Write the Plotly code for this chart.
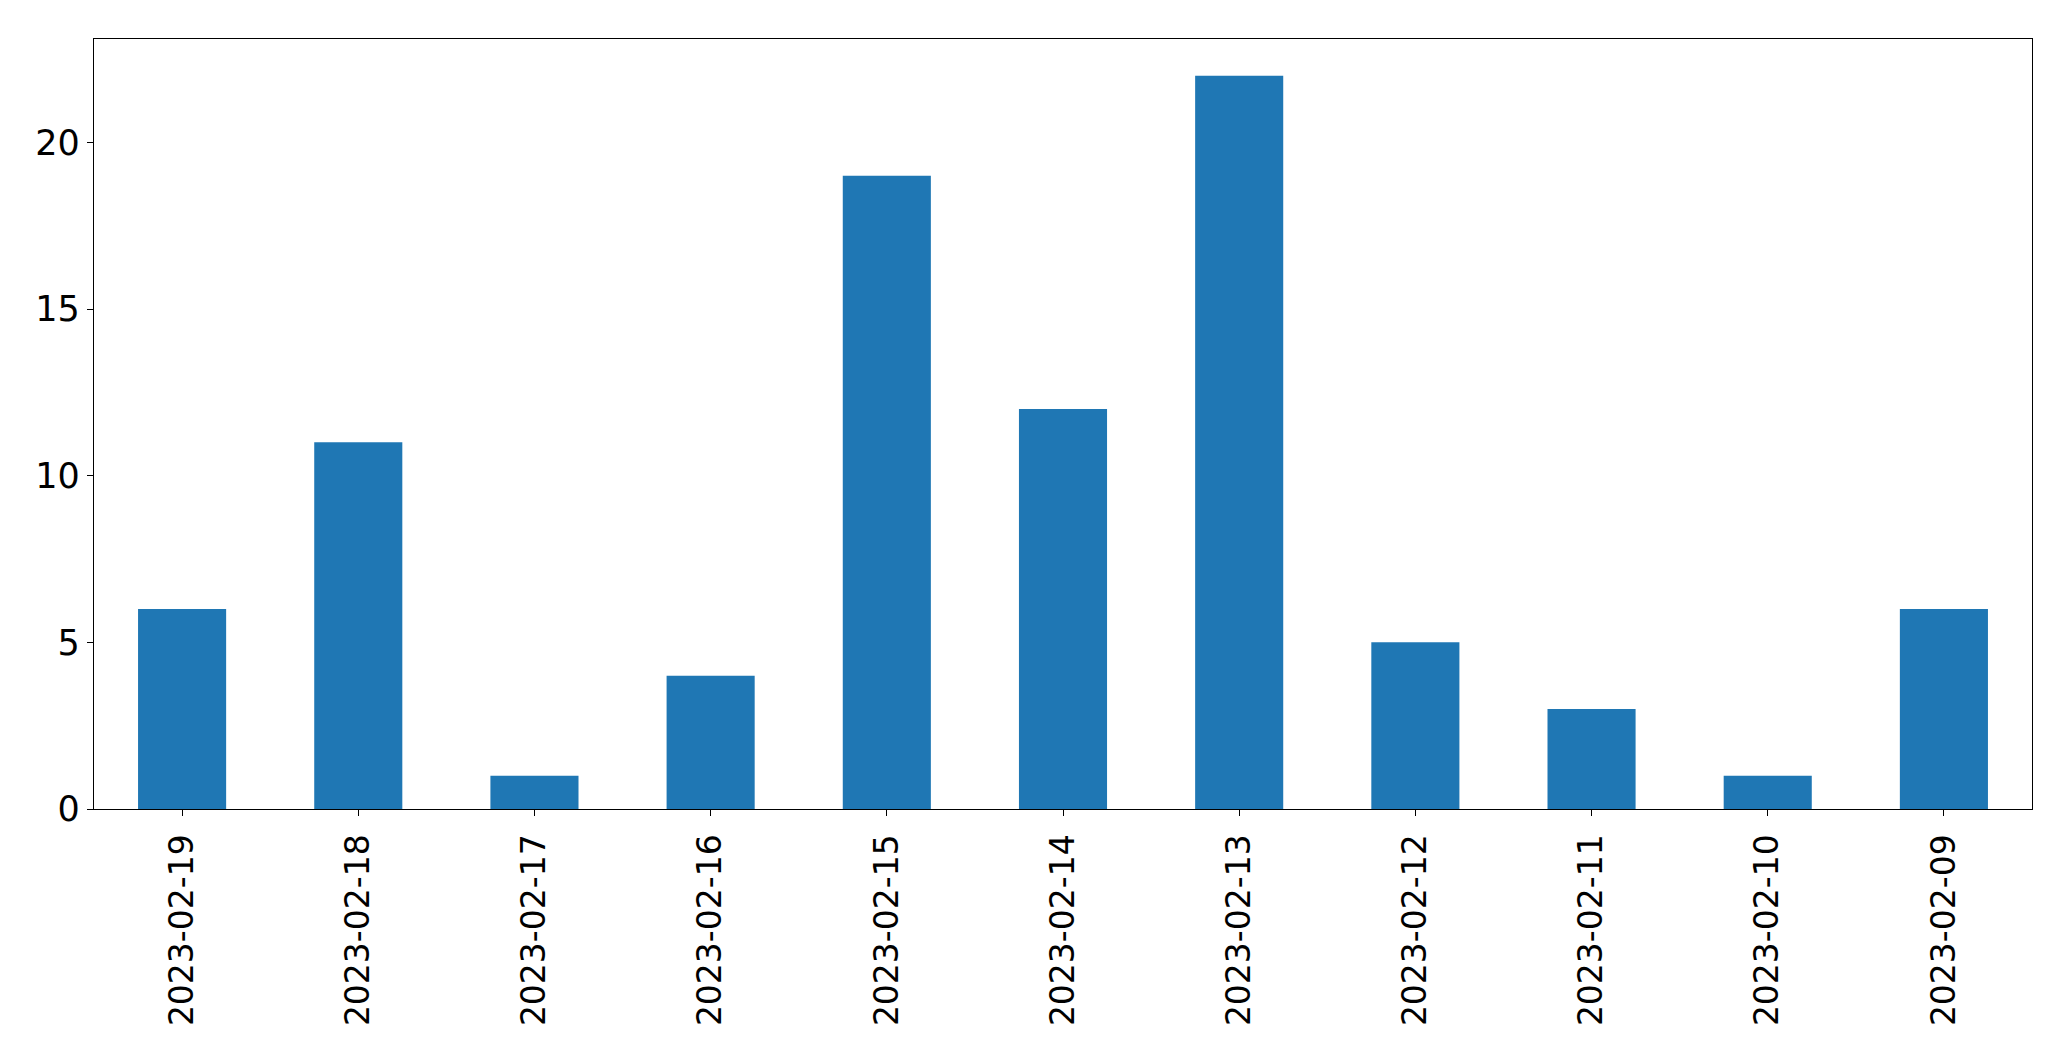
import plotly.graph_objects as go

dates = ["2023-02-19", "2023-02-18", "2023-02-17", "2023-02-16", "2023-02-15",
         "2023-02-14", "2023-02-13", "2023-02-12", "2023-02-11", "2023-02-10", "2023-02-09"]
counts = [6, 11, 1, 4, 19, 12, 22, 5, 3, 1, 6]
y_ticks = [0, 5, 10, 15, 20]

fig = go.Figure(go.Bar(x=dates, y=counts, marker=dict(color="#1f77b4", line=dict(width=0)),
                       width=0.5))

fig.update_layout(
    width=2071, height=1061,
    margin=dict(l=94, r=39, t=39, b=252, pad=0),
    paper_bgcolor="white", plot_bgcolor="white",
    font=dict(family="DejaVu Sans", size=33, color="black"),
    showlegend=False,
)
fig.update_xaxes(type="category", range=[-0.5, 10.5], tickangle=-90,
                 showline=True, linecolor="black", linewidth=1.3, mirror=True,
                 ticks="outside", ticklen=6, tickwidth=1.3, tickcolor="black",
                 showgrid=False, zeroline=False, tickfont=dict(size=33),
                 ticklabelstandoff=5)
fig.update_yaxes(range=[0, 23.1], tickvals=y_ticks,
                 showline=True, linecolor="black", linewidth=1.3, mirror=True,
                 ticks="outside", ticklen=6, tickwidth=1.3, tickcolor="black",
                 showgrid=False, zeroline=False, tickfont=dict(size=35))

fig.write_html("out.html", config={"displayModeBar": False},
               post_script="document.body.style.margin='0';")
